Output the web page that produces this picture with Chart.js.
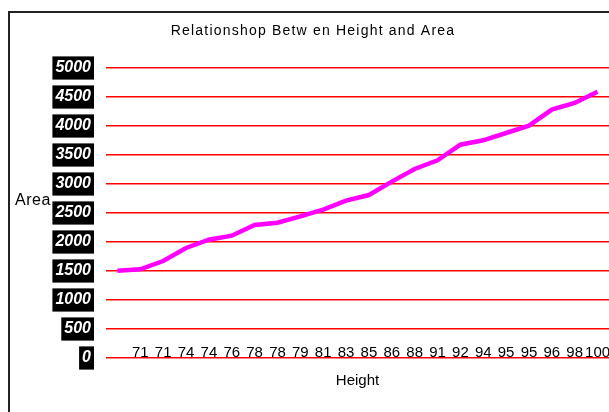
<!DOCTYPE html>
<html>
<head>
<meta charset="utf-8">
<script src="https://cdn.jsdelivr.net/npm/chart.js@4/dist/chart.umd.min.js"></script>
<style>
  html, body { margin: 0; padding: 0; background: #fff; }
  #wrap { position: relative; width: 609px; height: 412px; }
</style>
</head>
<body>
<div id="wrap"><canvas id="myChart" width="609" height="412"></canvas></div>
<script>
/************** Height vs Area chart ******/
var heightLabels = ["", "71", "71", "74", "74", "76", "78", "78", "79", "81", "83",
  "85", "86", "88", "91", "92", "94", "95", "95", "96", "98", "100"];
var areaValues = [1506, 1529, 1672, 1897, 2040, 2109, 2293, 2333, 2443, 2557, 2713,
  2810, 3040, 3259, 3408, 3678, 3753, 3879, 4006, 4282, 4397, 4592];
var yMin = 0, yMax = 5000, yStep = 500;
var chartTitle = "Relationshop Betw en Height and Area";
var yTitle = "Area";
var xTitle = "Height";

var FONT = "Arial, 'Liberation Sans', sans-serif";

// frame line, spaced-out title and horizontal "Area" label
var extras = {
  id: "extras",
  beforeDraw: function(chart) {
    var ctx = chart.ctx;
    ctx.save();
    ctx.fillStyle = "#fff";
    ctx.fillRect(0, 0, chart.width, chart.height);
    ctx.strokeStyle = "#222";
    ctx.lineWidth = 2;
    ctx.beginPath();
    ctx.moveTo(9, chart.height);
    ctx.lineTo(9, 12);
    ctx.lineTo(chart.width, 12);
    ctx.stroke();

    ctx.fillStyle = "#000";
    ctx.textBaseline = "middle";
    ctx.font = "14px " + FONT;
    ctx.letterSpacing = "1.2px";
    ctx.textAlign = "center";
    ctx.fillText(chartTitle, 313, 31);

    ctx.font = "16px " + FONT;
    ctx.letterSpacing = "0.5px";
    ctx.textAlign = "left";
    ctx.fillText(yTitle, 15, 201);
    ctx.restore();
  }
};

new Chart("myChart", {
  type: "line",
  data: {
    labels: heightLabels,
    datasets: [{
      data: areaValues,
      borderColor: "#ff00ff",
      borderWidth: 4.5,
      pointRadius: 0,
      fill: false,
      tension: 0
    }]
  },
  plugins: [extras],
  options: {
    responsive: false,
    animation: false,
    layout: {padding: {left: 0, right: 0, top: 68, bottom: 0}},
    plugins: {
      legend: {display: false},
      tooltip: {enabled: false},
      title: {display: false}
    },
    scales: {
      x: {
        offset: true,
        grid: {display: false, drawTicks: false},
        border: {display: false},
        ticks: {
          color: "#000",
          font: {family: FONT, size: 15},
          mirror: true,
          padding: -4,
          maxRotation: 0,
          autoSkip: false
        },
        title: {
          display: true,
          text: xTitle,
          color: "#000",
          font: {family: FONT, size: 15},
          padding: {top: 0, bottom: 22}
        },
        afterFit: function(scale) { scale.height = 54; }
      },
      y: {
        min: yMin,
        max: yMax,
        grid: {color: "#ff0000", lineWidth: 1.5, drawTicks: false},
        border: {display: false},
        ticks: {
          stepSize: yStep,
          color: "#fff",
          font: {family: FONT, size: 16, weight: "bold", style: "italic"},
          padding: 15,
          showLabelBackdrop: true,
          backdropColor: "#000",
          backdropPadding: {top: 2, bottom: 2, left: 3, right: 3},
          callback: function(v) { return String(v); }
        },
        afterFit: function(scale) { scale.width = 106; }
      }
    }
  }
});
</script>
</body>
</html>
